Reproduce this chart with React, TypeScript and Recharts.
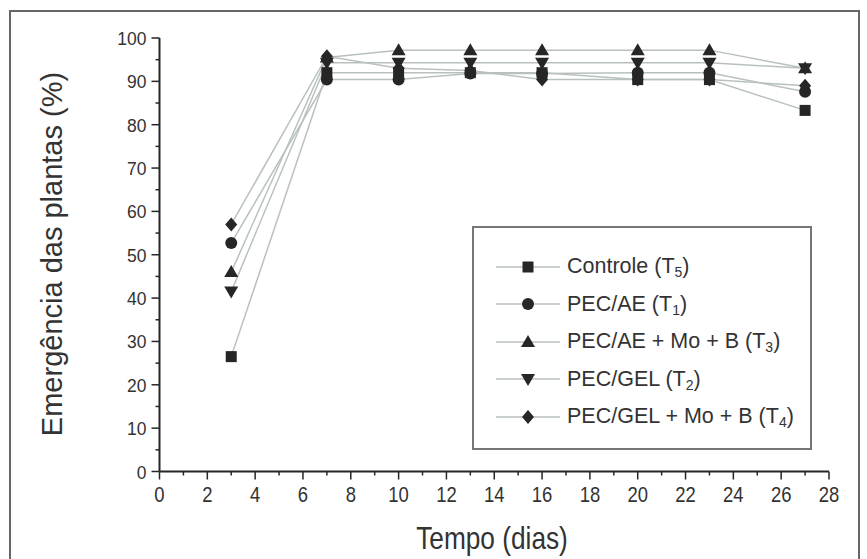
import React from 'react'
import { LineChart, Line, XAxis, YAxis } from 'recharts'

const days = [3, 7, 10, 13, 16, 20, 23, 27]
const controle = [26.5, 92, 92, 92, 92, 90.4, 90.4, 83.3]
const pecAe = [52.7, 90.4, 90.4, 91.8, 91.8, 92, 92, 87.6]
const pecAeMoB = [46, 95.5, 97.2, 97.2, 97.2, 97.2, 97.2, 93]
const pecGel = [41.5, 94.3, 94.3, 94.3, 94.3, 94.3, 94.3, 93]
const pecGelMoB = [57, 95.8, 93, 92.5, 90.4, 90.4, 90.4, 89]

const seriesKeys = ['controle', 'pecAe', 'pecAeMoB', 'pecGel', 'pecGelMoB']
const seriesNames = ['Controle', 'PEC/AE', 'PEC/AE + Mo + B', 'PEC/GEL', 'PEC/GEL + Mo + B']
const seriesSubs = ['5', '1', '3', '2', '4']
const seriesShapes = ['square', 'circle', 'triangle', 'invTriangle', 'diamond']

const xTicks = [0, 1, 2, 3, 4, 5, 6, 7, 8, 9, 10, 11, 12, 13, 14, 15, 16, 17, 18, 19, 20, 21, 22, 23, 24, 25, 26, 27, 28]
const yTicks = [0, 5, 10, 15, 20, 25, 30, 35, 40, 45, 50, 55, 60, 65, 70, 75, 80, 85, 90, 95, 100]

const data = days.map((d, i) => ({
  day: d,
  controle: controle[i],
  pecAe: pecAe[i],
  pecAeMoB: pecAeMoB[i],
  pecGel: pecGel[i],
  pecGelMoB: pecGelMoB[i],
}))

const INK = '#262626'
const LINE_GREY = '#b9c0c0'
const FONT = "'Liberation Sans', Arial, sans-serif"

// draws one marker shape centred on cx, cy
const Marker = ({ shape, cx, cy }: { shape: string; cx: number; cy: number }) => {
  if (shape === 'square') return <rect x={cx - 5.5} y={cy - 5.5} width={11} height={11} fill={INK} />
  if (shape === 'circle') return <circle cx={cx} cy={cy} r={6} fill={INK} />
  if (shape === 'triangle')
    return <polygon points={`${cx},${cy - 7} ${cx - 7},${cy + 5} ${cx + 7},${cy + 5}`} fill={INK} />
  if (shape === 'invTriangle')
    return <polygon points={`${cx - 7},${cy - 5} ${cx + 7},${cy - 5} ${cx},${cy + 7}`} fill={INK} />
  return <polygon points={`${cx},${cy - 7} ${cx + 6},${cy} ${cx},${cy + 7} ${cx - 6},${cy}`} fill={INK} />
}

// tick labels in the source are condensed, so squeeze them horizontally
const XTick = (props: any) => {
  const { x, y, payload } = props
  const major = payload.value % 2 === 0
  return (
    <g>
      <line x1={x} x2={x} y1={y} y2={y + (major ? 8 : 4)} stroke={INK} strokeWidth={1.5} />
      {major && (
        <text
          transform={`translate(${x} ${y + 30}) scale(0.84 1)`}
          textAnchor="middle"
          fontSize={22}
          fontFamily={FONT}
          fill="#333"
        >
          {payload.value}
        </text>
      )}
    </g>
  )
}

const YTick = (props: any) => {
  const { x, y, payload } = props
  const major = payload.value % 10 === 0
  return (
    <g>
      <line x1={x} x2={x - (major ? 8 : 4)} y1={y} y2={y} stroke={INK} strokeWidth={1.5} />
      {major && (
        <text
          transform={`translate(${x - 13} ${y + 7}) scale(0.92 1)`}
          textAnchor="end"
          fontSize={19}
          fontFamily={FONT}
          fill="#333"
        >
          {payload.value}
        </text>
      )}
    </g>
  )
}

const LegendBox = () => (
  <div
    style={{
      position: 'absolute',
      left: 472,
      top: 226,
      width: 340,
      height: 224,
      border: '2px solid #777',
      background: '#fff',
      padding: '20px 0 0 0',
      boxSizing: 'border-box',
    }}
  >
    {seriesNames.map((name, i) => (
      <div key={name} style={{ display: 'flex', alignItems: 'center', height: 37.5 }}>
        <svg width={70} height={20} style={{ marginLeft: 20, flex: 'none' }}>
          <line x1={2} x2={66} y1={10} y2={10} stroke={LINE_GREY} strokeWidth={1.5} />
          <Marker shape={seriesShapes[i]} cx={34} cy={10} />
        </svg>
        <span style={{ fontFamily: FONT, fontSize: 21.5, color: '#333', marginLeft: 3, whiteSpace: 'nowrap' }}>
          {name} (T<sub style={{ fontSize: 14, verticalAlign: '-4px', lineHeight: 0 }}>{seriesSubs[i]}</sub>)
        </span>
      </div>
    ))}
  </div>
)

export default function App() {
  return (
    <div style={{ position: 'absolute', left: 0, top: 0, width: 867, height: 559, background: '#fff', overflow: 'hidden' }}>
      <div
        style={{
          position: 'absolute',
          left: 9,
          top: 10,
          width: 851,
          height: 600,
          border: '2px solid #666',
          boxSizing: 'border-box',
        }}
      />
      <LineChart width={867} height={559} data={data} margin={{ top: 38, right: 38, left: 0, bottom: 0 }}>
        <XAxis
          dataKey="day"
          type="number"
          domain={[0, 28]}
          ticks={xTicks}
          interval={0}
          tickSize={0}
          tickMargin={0}
          tickLine={false}
          tick={<XTick />}
          height={87.5}
          axisLine={{ stroke: INK, strokeWidth: 2 }}
        />
        <YAxis
          type="number"
          domain={[0, 100]}
          ticks={yTicks}
          interval={0}
          tickSize={0}
          tickMargin={0}
          tickLine={false}
          tick={<YTick />}
          width={159.5}
          axisLine={{ stroke: INK, strokeWidth: 2 }}
        />
        {seriesKeys.map((k, i) => (
          <Line
            key={k}
            dataKey={k}
            name={seriesNames[i]}
            stroke={LINE_GREY}
            strokeWidth={1.5}
            isAnimationActive={false}
            dot={(p: any) => <Marker key={`${k}-${p.index}`} shape={seriesShapes[i]} cx={p.cx} cy={p.cy} />}
            activeDot={false}
          />
        ))}
      </LineChart>
      <LegendBox />
      <div
        style={{
          position: 'absolute',
          left: 52,
          top: 254,
          transform: 'translate(-50%, -50%) rotate(-90deg)',
          whiteSpace: 'nowrap',
          fontFamily: FONT,
          fontSize: 29,
          color: '#333',
        }}
      >
        Emergência das plantas (%)
      </div>
      <div
        style={{
          position: 'absolute',
          left: 492,
          top: 538,
          transform: 'translate(-50%, -50%) scaleX(0.82)',
          whiteSpace: 'nowrap',
          fontFamily: FONT,
          fontSize: 32,
          color: '#333',
        }}
      >
        Tempo (dias)
      </div>
    </div>
  )
}
